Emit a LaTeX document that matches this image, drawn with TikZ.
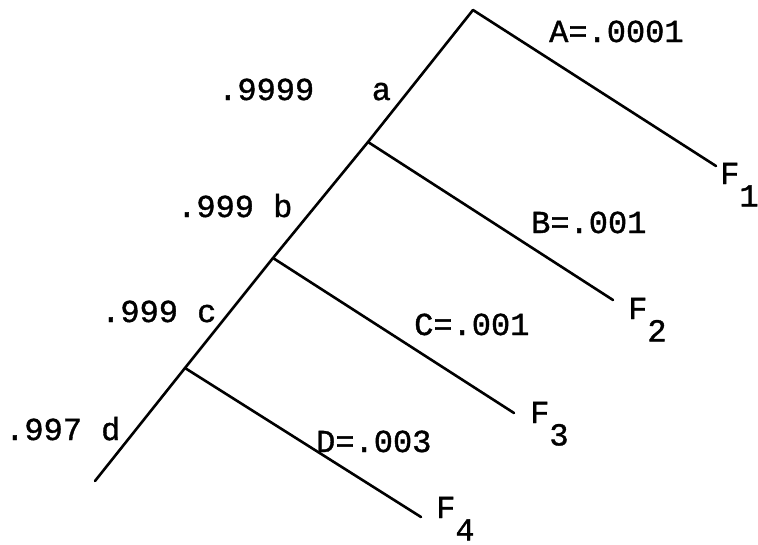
\documentclass[tikz,border=0pt]{standalone}
\usepackage{fontspec}
\usepackage{tikz}
\usetikzlibrary{positioning, calc}
\newfontfamily\treefont[FakeBold=1.2]{Liberation Mono}
\newcommand{\Fsub}[1]{F\raisebox{-0.7em}{#1}}
\tikzset{
	branch/.style={line width=2.6pt, line cap=round, line join=miter},
	problabel/.style={font=\treefont\fontsize{32}{38}\selectfont,
		inner sep=0pt, anchor=base west},
	failnode/.style={font=\treefont\fontsize{32}{38}\selectfont,
		inner sep=0pt, anchor=base west}
}
\begin{document}
\begin{tikzpicture}[x=1pt, y=-1pt]
			
			\useasboundingbox (0,0) rectangle (758,544);
			
			%% junctions on the main stem
			\coordinate (apex) at (473,10);
			\coordinate (jB) at (368,142);
			\coordinate (jC) at (273,258);
			\coordinate (jD) at (185,368);
			\coordinate (base) at (95,481);
			
			%% free ends of the failure branches
			\coordinate (endA) at (716,166);
			\coordinate (endB) at (613,300);
			\coordinate (endC) at (514,413);
			\coordinate (endD) at (421,517);
			
			%% main stem
			\draw[branch] (base) -- (jD) -- (jC) -- (jB) -- (apex);
			
			%% failure branches
			\draw[branch] (apex) -- (endA);
			\draw[branch] (jB) -- (endB);
			\draw[branch] (jC) -- (endC);
			\draw[branch] (jD) -- (endD);
			
			%% success probabilities along the stem
			\node[problabel] (pa) at (218,100) {.9999\ \ \ a};
			\node[problabel] (pb) at (177,217) {.999 b};
			\node[problabel] (pc) at (101,322) {.999 c};
			\node[problabel] (pd) at (5,440) {.997 d};
			
			%% failure probabilities on the branches
			\node[problabel] (qa) at (549,42) {A=.0001};
			\node[problabel] (qb) at (531,233) {B=.001};
			\node[problabel] (qc) at (414,335) {C=.001};
			\node[problabel] (qd) at (316,452) {D=.003};
			
			%% end states
			\node[failnode] (F1) at (720,184) {\Fsub{1}};
			\node[failnode] (F2) at (628,319) {\Fsub{2}};
			\node[failnode] (F3) at (530,423) {\Fsub{3}};
			\node[failnode] (F4) at (436,518) {\Fsub{4}};
			
		\end{tikzpicture}
\end{document}
